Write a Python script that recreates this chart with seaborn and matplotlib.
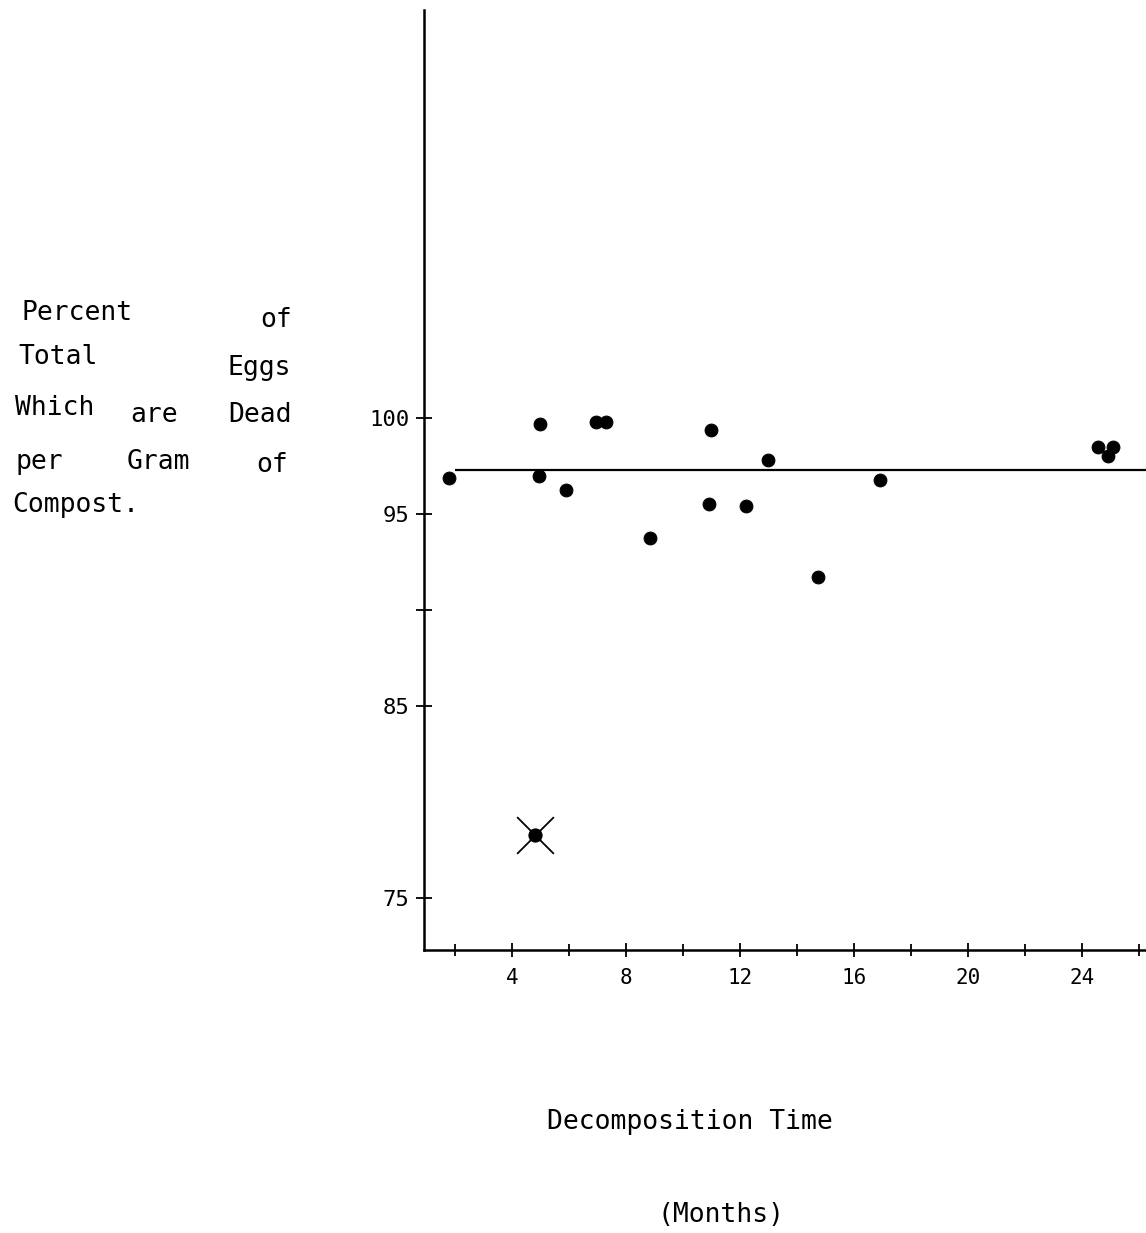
import matplotlib
matplotlib.use('Agg')
import matplotlib.pyplot as plt
import numpy as np
import pandas as pd
import seaborn as sns

sns.set_style('white')
plt.rcParams['text.color'] = 'black'
plt.rcParams['xtick.color'] = 'black'
plt.rcParams['ytick.color'] = 'black'

# Data
months = [1.8, 5.0, 4.95, 5.9, 6.95, 7.3, 8.85, 11.0, 10.9, 12.2, 13.0, 14.75,
          16.9, 24.55, 25.1, 24.9]
pct_dead = [96.9, 99.7, 97.0, 96.25, 99.8, 99.8, 93.75, 99.4, 95.5, 95.4, 97.8,
            91.7, 96.8, 98.5, 98.5, 98.0]
outlier_month = [4.8]
outlier_pct = [78.3]
mean_level = 97.3

xticks_major = [4, 8, 12, 16, 20, 24]
xticks_minor = [2, 6, 10, 14, 18, 22, 26]
yticks = [100, 95, 90, 85, 75]
ylabels = ['100', '95', '', '85', '75']

df = pd.DataFrame({'months': months, 'pct': pct_dead})
df_out = pd.DataFrame({'months': outlier_month, 'pct': outlier_pct})

fig = plt.figure(figsize=(11.46, 12.33), dpi=100)
ax = fig.add_axes([0.3696, 0.2295, 0.6304, 0.7624])

mono = 'DejaVu Sans Mono'

ax.hlines(mean_level, 2.0, 26.3, color='black', lw=1.6)
sns.scatterplot(data=df_out, x='months', y='pct', ax=ax, marker='x', s=700,
                color='black', linewidth=1.3, legend=False)
sns.scatterplot(data=df_out, x='months', y='pct', ax=ax, marker='o', s=90,
                color='black', edgecolor='black', legend=False)
sns.scatterplot(data=df, x='months', y='pct', ax=ax, marker='o', s=85,
                color='black', edgecolor='black', legend=False)

ax.set_xlim(0.9, 26.25)
ax.set_ylim(72.3, 121.25)

ax.set_xticks(xticks_major)
ax.set_xticks(xticks_minor, minor=True)
ax.set_xticklabels([str(t) for t in xticks_major], fontsize=15, family=mono)
ax.set_yticks(yticks)
ax.set_yticklabels(ylabels, fontsize=16, family=mono)
ax.tick_params(axis='both', which='both', direction='inout', color='black',
               width=1.3, bottom=True, left=True)
ax.tick_params(axis='x', which='major', length=10, pad=8)
ax.tick_params(axis='x', which='minor', length=8)
ax.tick_params(axis='y', length=12, pad=4)

for s in ['top', 'right']:
    ax.spines[s].set_visible(False)
for s in ['left', 'bottom']:
    ax.spines[s].set_color('black')
    ax.spines[s].set_linewidth(1.8)
ax.set_xlabel('')
ax.set_ylabel('')

# y label block, written word by word like the original
fs = 19
words = [
    ('Percent', 22, 313, 'left'), ('of', 292, 320, 'right'),
    ('Total', 18, 357, 'left'), ('Eggs', 291, 368, 'right'),
    ('Which', 15, 408, 'left'), ('are', 130, 415, 'left'), ('Dead', 292, 415, 'right'),
    ('per', 15, 462, 'left'), ('Gram', 127, 462, 'left'), ('of', 288, 465, 'right'),
    ('Compost.', 12, 505, 'left'),
]
for w, px, py, ha in words:
    fig.text(px / 1146, 1 - py / 1233, w, ha=ha, va='center', fontsize=fs,
             family=mono, color='black')

fig.text(690 / 1146, 1 - 1122 / 1233, 'Decomposition Time', ha='center',
         va='center', fontsize=fs, family=mono, color='black')
fig.text(721 / 1146, 1 - 1215 / 1233, '(Months)', ha='center', va='center',
         fontsize=fs, family=mono, color='black')

fig.savefig('out.png', dpi=100)
